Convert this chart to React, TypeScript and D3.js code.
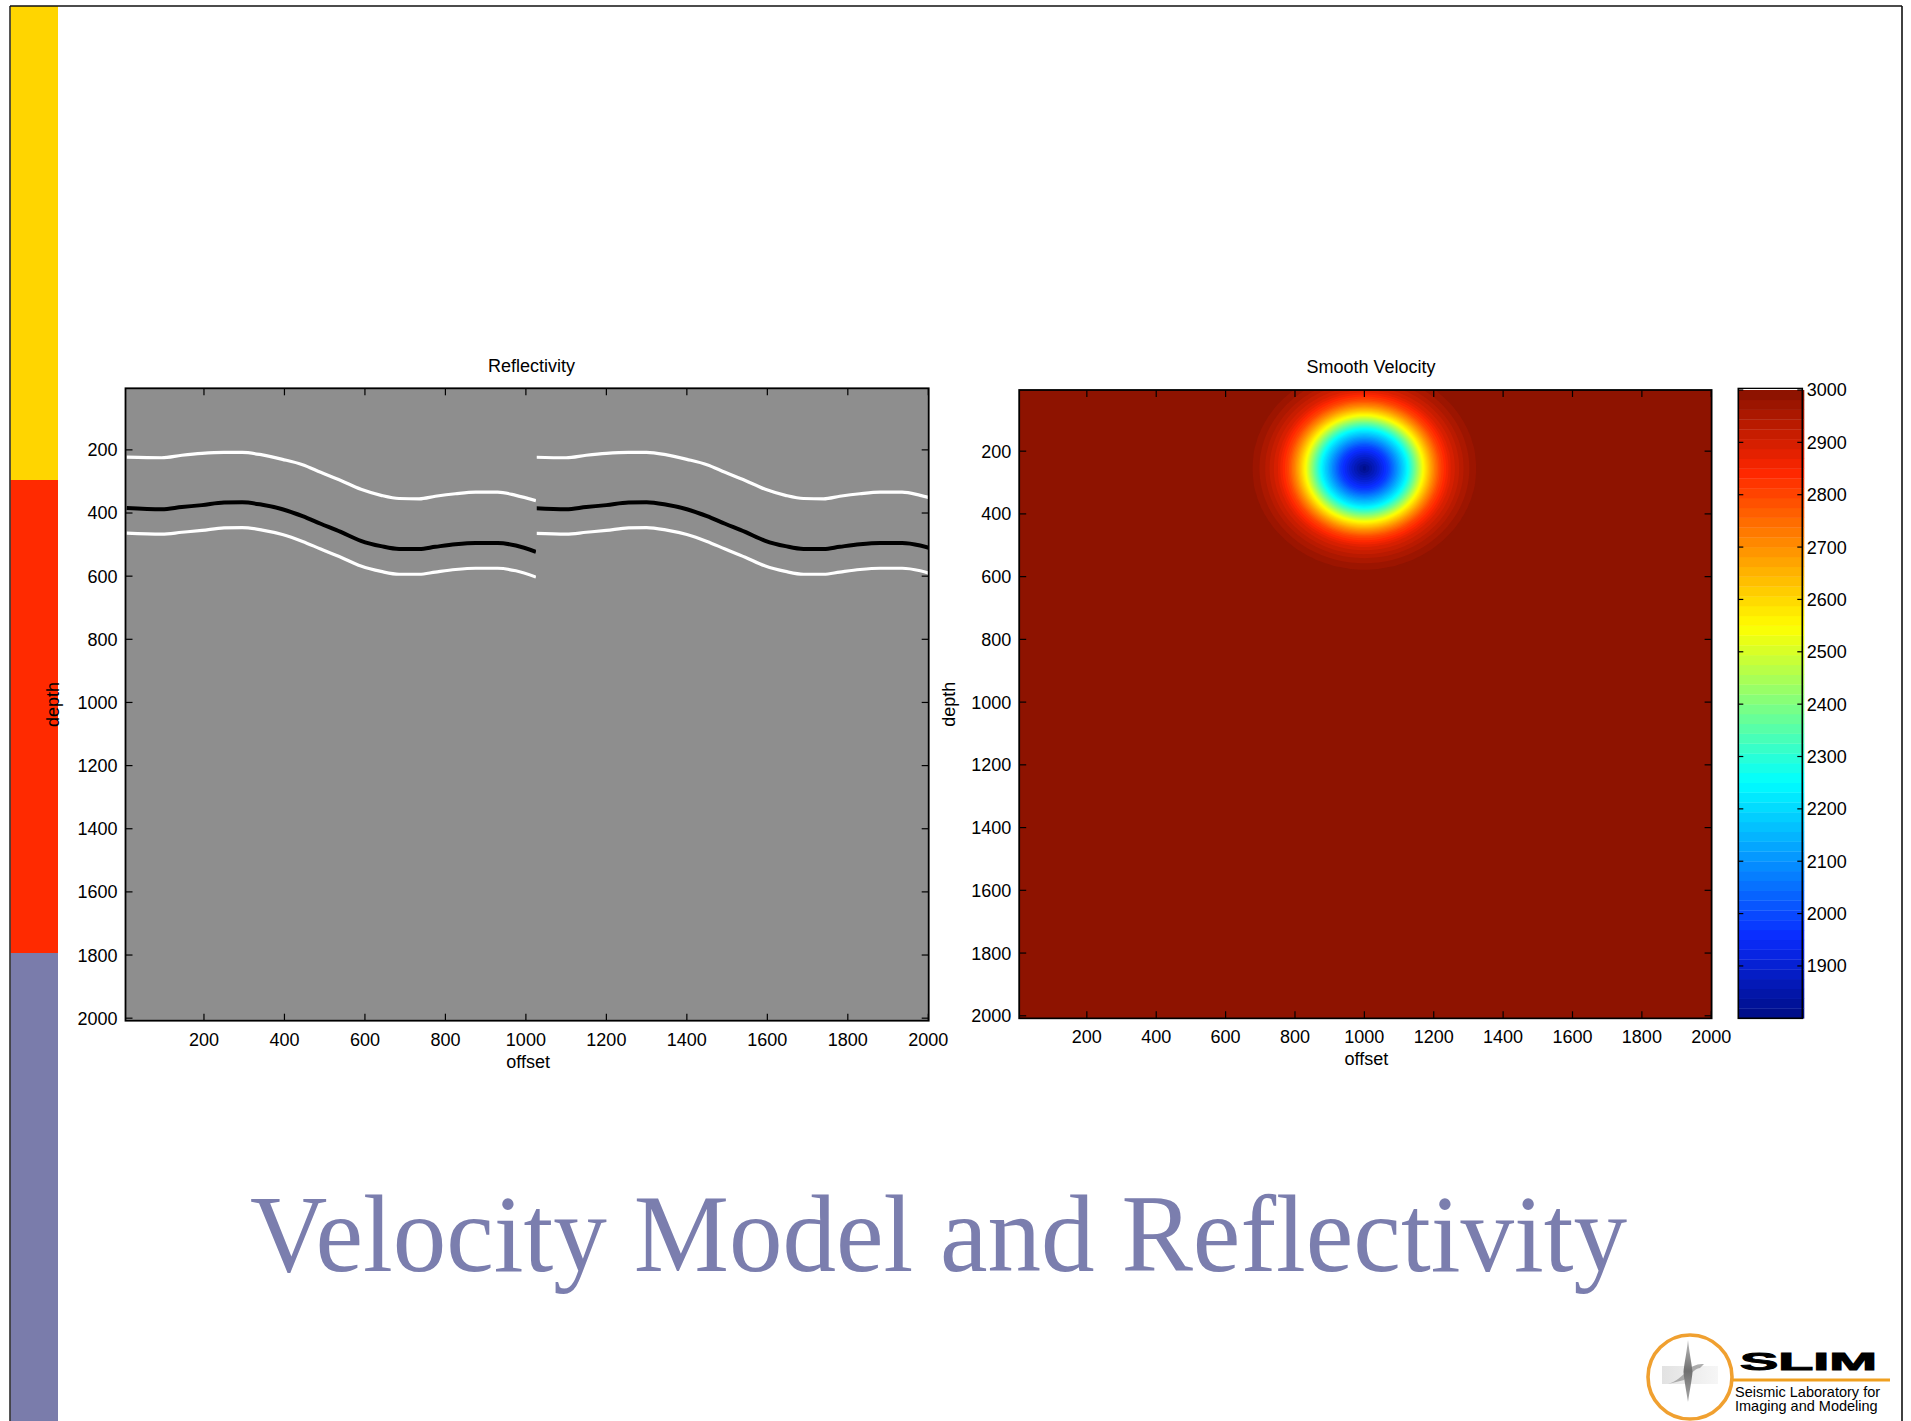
import React, { useMemo } from "react";
import * as d3 from "d3";

// ---- tick values ----
const OFFSET_TICKS = [200, 400, 600, 800, 1000, 1200, 1400, 1600, 1800, 2000];
const DEPTH_TICKS = [200, 400, 600, 800, 1000, 1200, 1400, 1600, 1800, 2000];
const VELOCITY_TICKS = [1900, 2000, 2100, 2200, 2300, 2400, 2500, 2600, 2700, 2800, 2900, 3000];

// ---- model extent (offset / depth, metres) ----
const OFFSET_DOMAIN = [5, 2001];
const DEPTH_DOMAIN = [5, 2008];

// ---- reflectors: depth of the three interfaces along offset (first block) ----
const REFLECTOR_OFFSETS = [8, 95, 145, 195, 250, 295, 345, 395, 445, 490, 540, 590, 640, 685, 735, 775, 825, 875, 930, 975, 1025];
const REFLECTOR_UPPER = [223, 225, 217, 211, 208, 208, 216, 230, 247, 271, 297, 325, 344, 354, 355, 347, 339, 334, 334, 344, 361];
const REFLECTOR_MIDDLE = [384, 388, 381, 375, 367, 366, 374, 388, 410, 434, 460, 488, 505, 514, 514, 507, 499, 495, 495, 503, 523];
const REFLECTOR_LOWER = [464, 467, 461, 455, 447, 446, 454, 468, 490, 514, 540, 568, 585, 594, 594, 587, 579, 575, 575, 583, 603];
// the block repeats once, shifted along offset
const BLOCK_END = 1025;
const REPEAT_SHIFT = 1005;
const REPEAT_START = 1027;

// ---- smooth velocity: background plus a low-velocity anomaly ----
const BACKGROUND_VELOCITY = 3000;
const ANOMALY_OFFSET = 1000;
const ANOMALY_DEPTH = 255;
const ANOMALY_RADII = [0, 40, 70, 100, 125, 145, 170, 195, 218, 250, 290, 320, 345, 380];
const ANOMALY_VELOCITY = [1800, 1900, 1990, 2130, 2250, 2380, 2550, 2690, 2800, 2890, 2950, 2980, 2995, 3000];
const VELOCITY_RANGE = [1800, 3000];
const COLOR_LEVELS = 64;

// jet colormap anchors
const JET_POSITIONS = [0, 0.125, 0.375, 0.625, 0.875, 1];
const JET_COLORS = ["#000e8a", "#0a2cff", "#00ffff", "#ffff00", "#ff2600", "#8e1300"];

const W = 1911;
const H = 1421;
const FONT = "'Liberation Sans', Arial, Helvetica, sans-serif";

const LEFT = { x0: 125.5, x1: 928.7, y0: 388.3, y1: 1020.7 };
const RIGHT = { x0: 1019.2, x1: 1711.6, y0: 390, y1: 1018.3 };
const CBAR = { x0: 1738.3, x1: 1802.3, y0: 390, y1: 1018.3 };

type Box = { x0: number; x1: number; y0: number; y1: number };

function Axes({ box, xs, ys, title, titleX, titleY, depthX }: {
  box: Box;
  xs: d3.ScaleLinear<number, number>;
  ys: d3.ScaleLinear<number, number>;
  title: string;
  titleX: number;
  titleY: number;
  depthX: number;
}) {
  const tl = 7;
  return (
    <g fontFamily={FONT} fontSize={18} fill="#000">
      {OFFSET_TICKS.map((t) => (
        <g key={"x" + t}>
          <line x1={xs(t)} x2={xs(t)} y1={box.y1} y2={box.y1 - tl} stroke="#000" strokeWidth={1.2} />
          <line x1={xs(t)} x2={xs(t)} y1={box.y0} y2={box.y0 + tl} stroke="#000" strokeWidth={1.2} />
          <text x={xs(t)} y={box.y1 + 25} textAnchor="middle">{t}</text>
        </g>
      ))}
      {DEPTH_TICKS.map((t) => (
        <g key={"y" + t}>
          <line x1={box.x0} x2={box.x0 + tl} y1={ys(t)} y2={ys(t)} stroke="#000" strokeWidth={1.2} />
          <line x1={box.x1} x2={box.x1 - tl} y1={ys(t)} y2={ys(t)} stroke="#000" strokeWidth={1.2} />
          <text x={box.x0 - 8} y={ys(t)} dy="0.36em" textAnchor="end">{t}</text>
        </g>
      ))}
      <rect x={box.x0} y={box.y0} width={box.x1 - box.x0} height={box.y1 - box.y0} fill="none" stroke="#000" strokeWidth={1.8} />
      <text x={titleX} y={titleY} textAnchor="middle">{title}</text>
      <text x={(box.x0 + box.x1) / 2 + 1} y={box.y1 + 47} textAnchor="middle">offset</text>
      <text transform={`translate(${depthX},${(box.y0 + box.y1) / 2}) rotate(-90)`} textAnchor="middle">depth</text>
    </g>
  );
}

export default function App() {
  const xL = d3.scaleLinear().domain(OFFSET_DOMAIN).range([LEFT.x0, LEFT.x1]);
  const yL = d3.scaleLinear().domain(DEPTH_DOMAIN).range([LEFT.y0, LEFT.y1]);
  const xR = d3.scaleLinear().domain(OFFSET_DOMAIN).range([RIGHT.x0, RIGHT.x1]);
  const yR = d3.scaleLinear().domain(DEPTH_DOMAIN).range([RIGHT.y0, RIGHT.y1]);
  const yC = d3.scaleLinear().domain(VELOCITY_RANGE).range([CBAR.y1, CBAR.y0]);

  const jet = d3.scaleLinear<string>().domain(JET_POSITIONS).range(JET_COLORS).interpolate(d3.interpolateRgb);
  const palette = d3.range(COLOR_LEVELS).map((k) => jet(k / (COLOR_LEVELS - 1)));
  const levelStep = (VELOCITY_RANGE[1] - VELOCITY_RANGE[0]) / COLOR_LEVELS;

  // reflector lines
  const reflectorPaths = useMemo(() => {
    const mk = (depths: number[], shift: number) =>
      d3.line<number>()
        .x((_, i) => xL(REFLECTOR_OFFSETS[i] + shift))
        .y((d) => yL(d))
        .curve(d3.curveMonotoneX)(depths) as string;
    return [
      { d: REFLECTOR_UPPER, color: "#ffffff", w: 3.2 },
      { d: REFLECTOR_MIDDLE, color: "#000000", w: 4 },
      { d: REFLECTOR_LOWER, color: "#ffffff", w: 3.2 },
    ].map((r) => ({ a: mk(r.d, 0), b: mk(r.d, REPEAT_SHIFT), color: r.color, w: r.w }));
  }, []);

  // velocity field, filled contours of the quantized colormap
  const velocityBands = useMemo(() => {
    const step = 10;
    const nx = 201;
    const ny = 201;
    const profile = d3.scaleLinear().domain(ANOMALY_RADII).range(ANOMALY_VELOCITY).clamp(true);
    const values = new Array(nx * ny);
    for (let j = 0; j < ny; j++) {
      for (let i = 0; i < nx; i++) {
        const r = Math.hypot(i * step - ANOMALY_OFFSET, j * step - ANOMALY_DEPTH);
        values[j * nx + i] = r >= ANOMALY_RADII[ANOMALY_RADII.length - 1] ? BACKGROUND_VELOCITY : profile(r);
      }
    }
    const thresholds = d3.range(1, COLOR_LEVELS).map((k) => VELOCITY_RANGE[0] + k * levelStep);
    const contours = d3.contours().size([nx, ny]).thresholds(thresholds)(values);
    const proj = d3.geoTransform({
      point(x: number, y: number) {
        (this as any).stream.point(xR((x - 0.5) * step), yR((y - 0.5) * step));
      },
    });
    const path = d3.geoPath(proj);
    return contours.map((c, idx) => ({ d: path(c as any) || "", color: palette[idx + 1] }));
  }, []);

  const bands = d3.range(COLOR_LEVELS).map((k) => ({
    y0: yC(VELOCITY_RANGE[0] + (k + 1) * levelStep),
    y1: yC(VELOCITY_RANGE[0] + k * levelStep),
    color: palette[k],
  }));

  return (
    <svg width={W} height={H} viewBox={`0 0 ${W} ${H}`} style={{ position: "absolute", left: 0, top: 0, display: "block" }}>
      <defs>
        <clipPath id="clipLeft">
          <rect x={LEFT.x0} y={LEFT.y0} width={LEFT.x1 - LEFT.x0} height={LEFT.y1 - LEFT.y0} />
        </clipPath>
        <clipPath id="clipBlockA">
          <rect x={LEFT.x0} y={LEFT.y0} width={xL(BLOCK_END) - LEFT.x0} height={LEFT.y1 - LEFT.y0} />
        </clipPath>
        <clipPath id="clipBlockB">
          <rect x={xL(REPEAT_START)} y={LEFT.y0} width={LEFT.x1 - xL(REPEAT_START)} height={LEFT.y1 - LEFT.y0} />
        </clipPath>
        <clipPath id="clipRight">
          <rect x={RIGHT.x0} y={RIGHT.y0} width={RIGHT.x1 - RIGHT.x0} height={RIGHT.y1 - RIGHT.y0} />
        </clipPath>
        <linearGradient id="logoPlate" x1="0" x2="1" y1="0" y2="0">
          <stop offset="0" stopColor="#e2e2e2" />
          <stop offset="1" stopColor="#f6f6f6" />
        </linearGradient>
        <linearGradient id="logoSpike" x1="0" x2="0" y1="0" y2="1">
          <stop offset="0" stopColor="#bdbdbd" />
          <stop offset="0.5" stopColor="#6f6f6f" />
          <stop offset="1" stopColor="#a8a8a8" />
        </linearGradient>
      </defs>

      <rect x={0} y={0} width={W} height={H} fill="#ffffff" />

      {/* slide side bar and border */}
      <rect x={10.5} y={6} width={47.5} height={474} fill="#ffd500" />
      <rect x={10.5} y={480} width={47.5} height={473} fill="#ff2a00" />
      <rect x={10.5} y={953} width={47.5} height={H - 953} fill="#7a7cab" />
      <line x1={10} x2={1902} y1={6} y2={6} stroke="#111" strokeWidth={1.6} />
      <line x1={10} x2={10} y1={6} y2={H} stroke="#111" strokeWidth={1.4} />
      <line x1={1902} x2={1902} y1={6} y2={H} stroke="#111" strokeWidth={1.6} />

      {/* Reflectivity panel */}
      <rect x={LEFT.x0} y={LEFT.y0} width={LEFT.x1 - LEFT.x0} height={LEFT.y1 - LEFT.y0} fill="#8e8e8e" />
      <g clipPath="url(#clipLeft)">
        <g clipPath="url(#clipBlockA)">
          {reflectorPaths.map((r, i) => (
            <path key={"a" + i} d={r.a} fill="none" stroke={r.color} strokeWidth={r.w} />
          ))}
        </g>
        <g clipPath="url(#clipBlockB)">
          {reflectorPaths.map((r, i) => (
            <path key={"b" + i} d={r.b} fill="none" stroke={r.color} strokeWidth={r.w} />
          ))}
        </g>
      </g>
      <Axes box={LEFT} xs={xL} ys={yL} title="Reflectivity" titleX={531.5} titleY={372} depthX={59} />

      {/* Smooth velocity panel */}
      <g clipPath="url(#clipRight)">
        <rect x={RIGHT.x0} y={RIGHT.y0} width={RIGHT.x1 - RIGHT.x0} height={RIGHT.y1 - RIGHT.y0} fill={palette[0]} />
        {velocityBands.map((b, i) => (
          <path key={i} d={b.d} fill={b.color} stroke="none" />
        ))}
      </g>
      <Axes box={RIGHT} xs={xR} ys={yR} title="Smooth Velocity" titleX={1371} titleY={373} depthX={955} />

      {/* colorbar */}
      <g>
        {bands.map((b, i) => (
          <rect key={i} x={CBAR.x0} y={b.y0} width={CBAR.x1 - CBAR.x0 + 2} height={b.y1 - b.y0 + 0.3} fill={b.color} />
        ))}
        <rect x={CBAR.x0} y={CBAR.y0 - 1.5} width={CBAR.x1 - CBAR.x0} height={CBAR.y1 - CBAR.y0 + 1.5} fill="none" stroke="#000" strokeWidth={1.6} />
        <line x1={CBAR.x0 + 1} x2={CBAR.x1 - 1} y1={CBAR.y0 - 0.5} y2={CBAR.y0 - 0.5} stroke="#ffffff" strokeWidth={1} />
        {VELOCITY_TICKS.map((t) => (
          <g key={t}>
            <line x1={CBAR.x0} x2={CBAR.x0 + 5} y1={yC(t)} y2={yC(t)} stroke="#000" strokeWidth={1.2} />
            <line x1={CBAR.x1} x2={CBAR.x1 - 5} y1={yC(t)} y2={yC(t)} stroke="#000" strokeWidth={1.2} />
            <text x={CBAR.x1 + 4.5} y={yC(t)} dy="0.36em" fontFamily={FONT} fontSize={18} fill="#000">{t}</text>
          </g>
        ))}
      </g>

      {/* slide title */}
      <text x={250} y={1271} fontFamily="'Liberation Serif', 'Times New Roman', serif" fontSize={110}
        fill="#7b7eae" textLength={1377} lengthAdjust="spacingAndGlyphs">
        Velocity Model and Reflectivity
      </text>

      {/* SLIM logo */}
      <g>
        <circle cx={1690} cy={1377} r={42} fill="#ffffff" stroke="#f0a030" strokeWidth={3.6} />
        <rect x={1662} y={1366} width={56} height={18} fill="url(#logoPlate)" />
        <path d="M1668,1384 C1676,1382 1682,1376 1688,1370 C1693,1365 1698,1364 1704,1364 L1700,1368 C1694,1369 1690,1375 1684,1380 Z" fill="#9a9a9a" opacity={0.8} />
        <path d="M1688,1340 C1690,1357 1692,1365 1692.5,1372 C1692,1379 1690,1389 1688,1402 C1686,1389 1684,1379 1683.5,1372 C1684,1365 1686,1357 1688,1340 Z" fill="url(#logoSpike)" />
        <text x={1740} y={1369.5} fontFamily="'Liberation Sans', Arial, sans-serif" fontWeight={700} fontSize={23}
          textLength={137} lengthAdjust="spacingAndGlyphs" fill="#000" stroke="#000" strokeWidth={0.9}>SLIM</text>
        <line x1={1733} x2={1890} y1={1380} y2={1380} stroke="#f0a020" strokeWidth={3} />
        <text x={1735} y={1397} fontFamily={FONT} fontSize={14.5} fill="#000">Seismic Laboratory for</text>
        <text x={1735} y={1411} fontFamily={FONT} fontSize={14.5} fill="#000">Imaging and Modeling</text>
      </g>
    </svg>
  );
}
